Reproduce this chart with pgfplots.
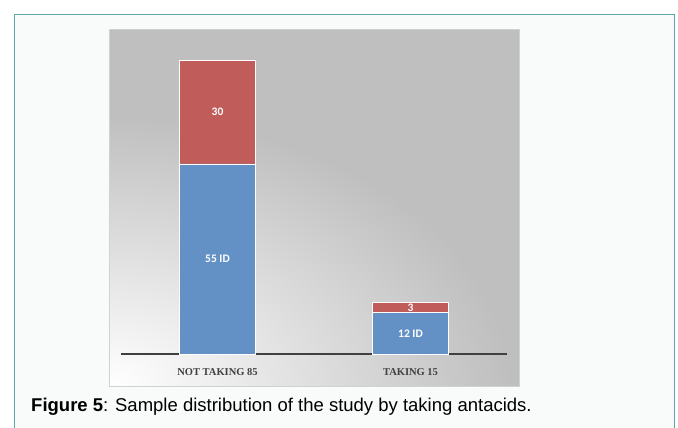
\documentclass[border=0pt]{standalone}
\usepackage{fontspec}
\setmainfont{Liberation Sans}
\newfontfamily\serifb{Liberation Serif}
\newfontfamily\calib{Carlito}
\usepackage{pgfplots}
\pgfplotsset{compat=1.18}
\definecolor{frameteal}{HTML}{5AA8A8}
\definecolor{pagebg}{HTML}{F9FBFB}
\definecolor{chartgray}{HTML}{BFBFBF}
\definecolor{barblue}{HTML}{6391C5}
\definecolor{barred}{HTML}{C05D5B}
\definecolor{axisdark}{HTML}{404040}
\begin{document}
\begin{tikzpicture}[x=1pt,y=1pt]
\useasboundingbox (0,0) rectangle (678,428);
\fill[white] (0,0) rectangle (678,428);
\filldraw[fill=pagebg, draw=frameteal, line width=1.5pt] (14.5,-5) rectangle (674.5,413.5);
\begin{scope}
\clip (109,42) rectangle (519,399);
\fill[chartgray] (109,42) rectangle (519,399);
\shade[inner color=white, outer color=chartgray] (109,42) ellipse [x radius=400, y radius=270];
\end{scope}
\draw[black!18, line width=0.6pt] (109,42) rectangle (519,399);
\begin{axis}[
  at={(121pt,74pt)}, anchor=south west,
  scale only axis, width=386pt, height=325pt,
  xmin=-0.5, xmax=1.5, ymin=0, ymax=94,
  ybar stacked, bar width=76pt,
  axis x line=bottom, axis y line=none,
  x axis line style={-, line width=1.6pt, color=axisdark},
  xtick={0,1}, xticklabels={NOT TAKING 85, TAKING 15},
  major tick length=0pt,
  xticklabel style={font=\serifb\bfseries\fontsize{10.5}{12}\selectfont, text=axisdark, anchor=base, yshift=-22pt},
  nodes near coords,
  point meta=explicit symbolic,
  every node near coord/.append style={font=\calib\bfseries\fontsize{11.5}{13}\selectfont, text=white, anchor=center},
  clip=false,
]
\addplot[fill=barblue, draw=white, line width=0.6pt] coordinates {(0,55) [55 ID] (1,12) [12 ID]};
\addplot[fill=barred, draw=white, line width=0.6pt] coordinates {(0,30) [30] (1,3) [3]};
\end{axis}
\node[anchor=base west, inner sep=0pt, font=\fontsize{18.5}{20}\selectfont] at (31,16) {\textbf{Figure 5}: Sample distribution of the study by taking antacids.};
\end{tikzpicture}
\end{document}
